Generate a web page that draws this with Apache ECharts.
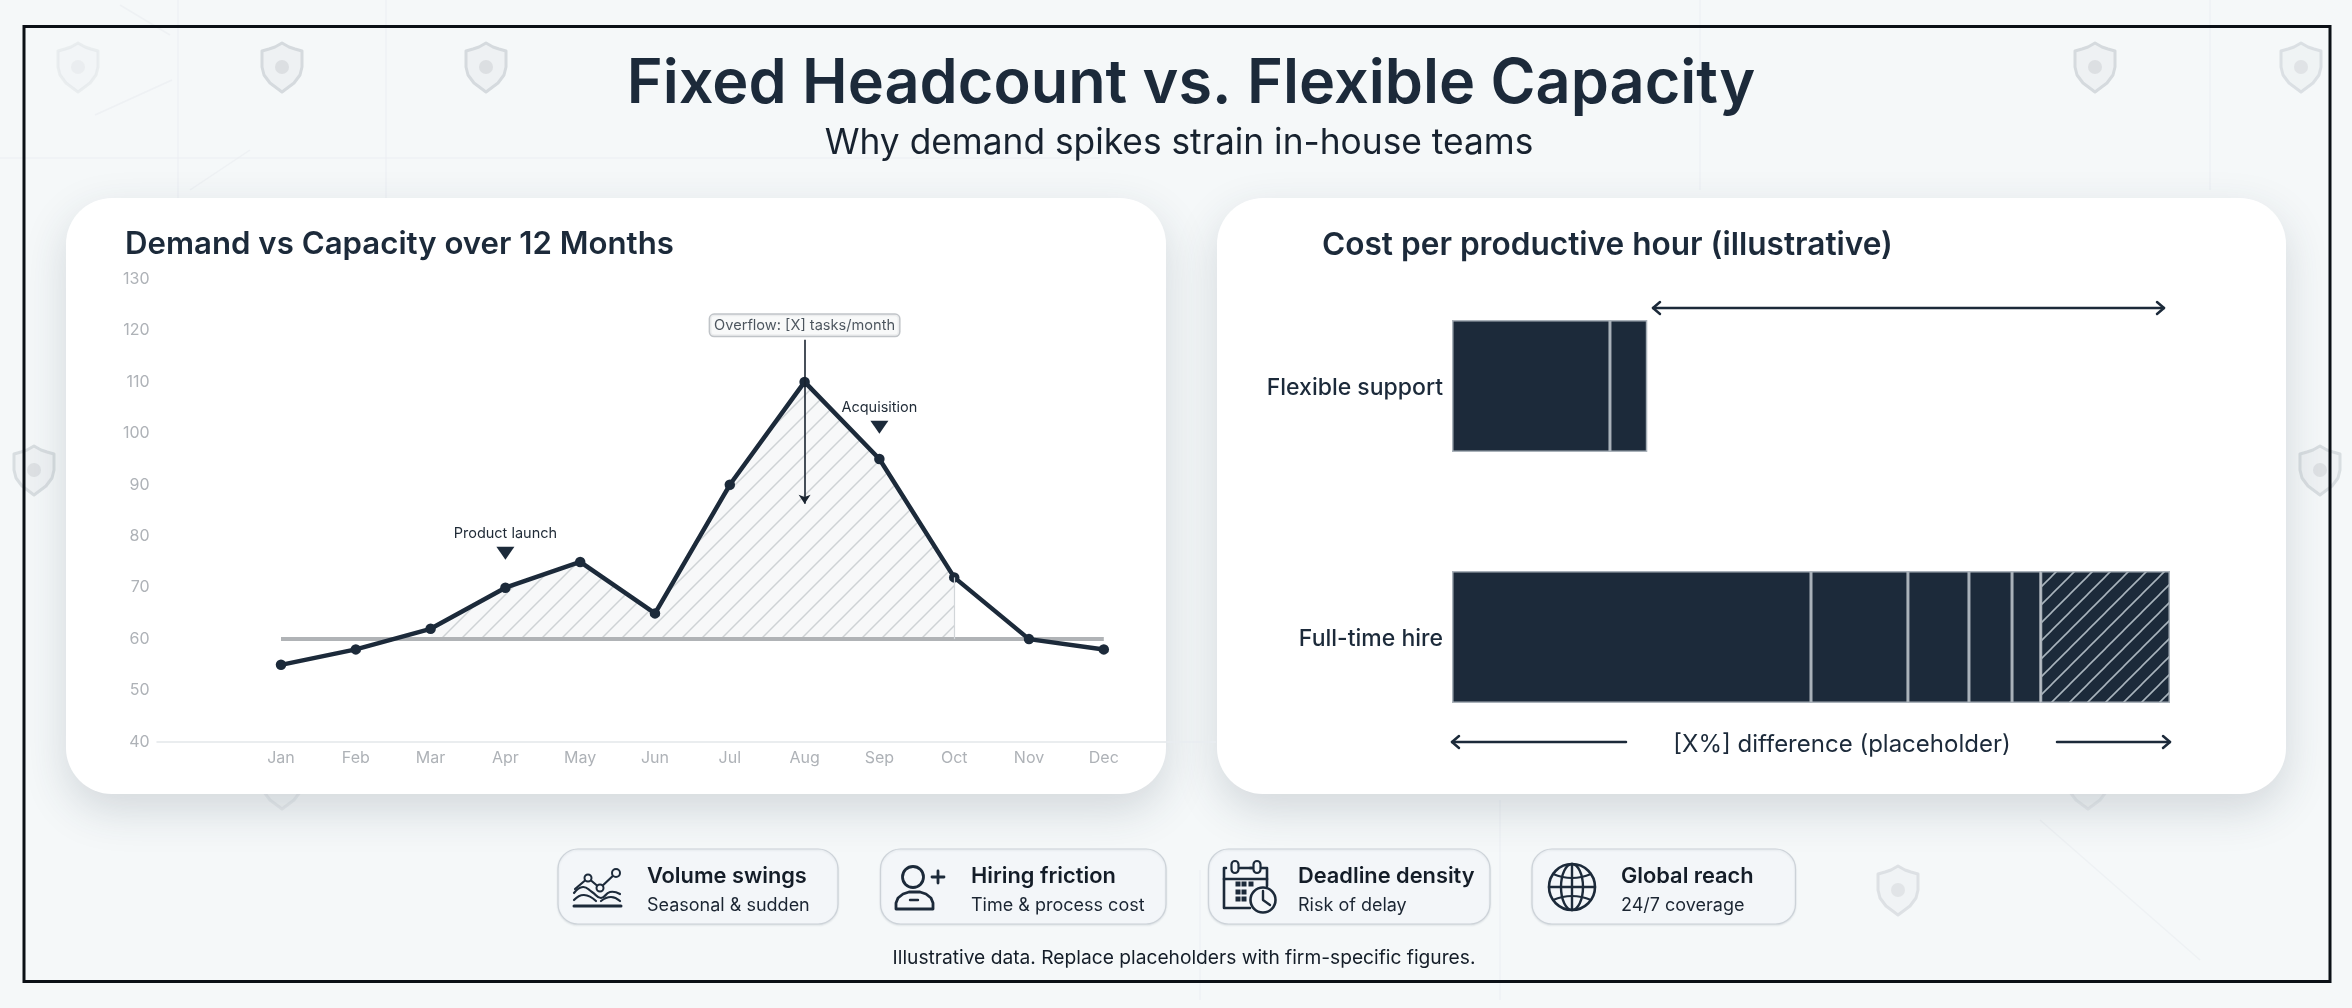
<!DOCTYPE html>
<html>
<head>
<meta charset="utf-8">
<title>Fixed Headcount vs. Flexible Capacity</title>
<style>html,body{margin:0;padding:0;background:#f5f8f9}#c{width:2352px;height:1008px}</style>
<script src="https://cdn.jsdelivr.net/npm/echarts@6/dist/echarts.min.js"></script>
</head>
<body>
<div id="c"></div>
<script>
// ---------- data ----------
const months = ['Jan','Feb','Mar','Apr','May','Jun','Jul','Aug','Sep','Oct','Nov','Dec'];
const demand = [55,58,62,70,75,65,90,110,95,72,60,58];
const capacity = [60,60,60,60,60,60,60,60,60,60,60,60];
const overflowBase = [null,null,60,60,60,60,60,60,60,60,null,null];
const overflowExtra = [null,null,2,10,15,5,30,50,35,12,null,null];
const eventPoints = [['Apr',76.7],['Sep',101.2]];
const eventNames = ['Product launch','Acquisition'];
const calloutPoint = ['Aug',121];
const calloutText = 'Overflow: [X] tasks/month';
const calloutArrow = [['Aug',118.2],['Aug',86.3]];

const costCategories = ['Flexible support','Full-time hire'];
const costSeg1 = [22,50];
const costSeg2 = [5.2,13.5];
const costSeg3 = [null,8.5];
const costSeg4 = [null,6];
const costSeg5 = [null,4];
const costHatched = [null,18];

const pills = [
  ['Volume swings','Seasonal & sudden'],
  ['Hiring friction','Time & process cost'],
  ['Deadline density','Risk of delay'],
  ['Global reach','24/7 coverage']
];
// ---------- styling ----------
const INK='#1c2a3a', FONT='Inter, "Noto Sans", sans-serif';
function hatch(size,bg,fg,w){
  const c=document.createElement('canvas');c.width=c.height=size;
  const g=c.getContext('2d');g.fillStyle=bg;g.fillRect(0,0,size,size);
  g.strokeStyle=fg;g.lineWidth=w;
  [[-2,2,2,-2],[0,size,size,0],[size-2,size+2,size+2,size-2]].forEach(p=>{g.beginPath();g.moveTo(p[0],p[1]);g.lineTo(p[2],p[3]);g.stroke();});
  return {image:c,repeat:'repeat'};
}
const gfx=[];
const ST=(o)=>Object.assign({fill:null,stroke:INK,lineWidth:2.5,lineCap:'round',lineJoin:'round'},o||{});
function add(type,shape,style,z){gfx.push({type,shape,style,z:z==null?-5:z,silent:true});}
function icoLine(x1,y1,x2,y2,w,c){add('line',{x1,y1,x2,y2},ST({lineWidth:w||2.5,stroke:c||INK}));}
function icoPoly(points,w,smooth){add('polyline',{points,smooth:smooth||0},ST({lineWidth:w||2.5}));}
function icoCirc(cx,cy,r,w,fill){add('circle',{cx,cy,r},ST({lineWidth:w||2.5,fill:fill||null}));}
function label(text,x,y,font,fill,align){gfx.push({type:'text',z:5,silent:true,style:{text,x,y,font,fill,align:align||'left',textAlign:align||'left',verticalAlign:'middle',textVerticalAlign:'middle'}});}
function arrow(x1,x2,y,l,r){
  icoLine(x1,y,x2,y,2.5);
  if(l) icoPoly([[x1+7,y-6],[x1,y],[x1+7,y+6]],2.5);
  if(r) icoPoly([[x2-7,y-6],[x2,y],[x2-7,y+6]],2.5);
}
// background veins
[[178,0,178,300],[386,0,386,198],[0,158,1100,158],[120,5,170,35],[95,115,172,80],[190,190,250,150],[1500,800,1500,1000],[2040,820,2200,960],[1700,0,1700,190],[2210,0,2210,190],[1200,870,1200,1000]]
 .forEach(l=>add('line',{x1:l[0],y1:l[1],x2:l[2],y2:l[3]},{stroke:'#e9edf0',lineWidth:1.5,opacity:.6},-30));
// shields
const SH=[[20,0],[27,4],[33,6],[40,8],[40,24],[38,32],[32,40],[20,49],[8,40],[2,32],[0,24],[0,8],[7,6],[13,4]];
[[58,43,.35],[262,43,1],[466,43,1],[2075,43,1],[2281,43,.8],[14,446,.9],[2300,446,.9],[1878,866,.75],[262,760,.4],[2068,760,.4]]
 .forEach(s=>{
   add('polygon',{points:SH.map(p=>[p[0]+s[0],p[1]+s[1]])},{fill:'#eef1f3',stroke:'#d5dade',lineWidth:3,lineJoin:'round',opacity:s[2]},-30);
   add('circle',{cx:s[0]+20,cy:s[1]+24,r:7},{fill:'#dcdfe2',opacity:s[2]},-29);
 });
// frame
add('rect',{x:24,y:26.5,width:2306,height:955},{fill:null,stroke:'#0b1016',lineWidth:3},-20);
// cards
[[66,198,1100,596],[1217,198,1069,596]].forEach(c=>
  add('rect',{x:c[0],y:c[1],width:c[2],height:c[3],r:46},{fill:'#fff',shadowBlur:44,shadowColor:'rgba(40,60,80,.17)',shadowOffsetY:16},-10));
// x baseline of the line chart (spans beyond the plot)
icoLine(157,742,1166,742,1.5,'#e4e7ea');
add('line',{x1:1166,y1:742,x2:1216,y2:742},{stroke:'#e9edf0',lineWidth:1.5},-9);
// pills
const pillBox=[[558,280],[880.5,285.5],[1208.5,281.5],[1532,263.5]];
const pillText=[647,971,1298,1621];
pillBox.forEach((p,i)=>{
  add('rect',{x:p[0],y:849,width:p[1],height:75,r:20},{fill:'#f3f6f9',stroke:'#ccd2d8',lineWidth:1.2,shadowBlur:2,shadowColor:'rgba(40,60,80,.10)',shadowOffsetY:1},-6);
  label(pills[i][0],pillText[i],876,'600 21.8px '+FONT,'#141d28');
  label(pills[i][1],pillText[i],905.5,'400 18px '+FONT,'#1b2532');
});
// arrows (right card)
arrow(1653,2164,308,true,true);
arrow(1452,1626,742,true,false);
arrow(2057,2170,742,false,true);
label('[X%] difference (placeholder)',1842,744.5,'400 24px '+FONT,INK,'center');
label('Illustrative data. Replace placeholders with firm-specific figures.',1184,958.5,'400 19.2px '+FONT,'#141d28','center');
// icon: volume swings
icoPoly([[575,889],[588,878],[600,888],[616,873]],2.2);
icoCirc(588,878,3.5,2,'#f3f6f9');icoCirc(600,888,3.5,2,'#f3f6f9');icoCirc(616,873,4,2,'#f3f6f9');
icoPoly([[574,893],[583,887],[592,892],[601,898],[610,892],[620,894]],2.2,.5);
icoPoly([[574,900],[584,895],[596,901]],2.2,.5);
icoPoly([[601,901],[611,897],[620,901]],2.2,.5);
icoLine(574,906,621,906,3);
// icon: hiring friction
icoCirc(913,877,10.5,2.8);
icoLine(938,871,938,883,2.8);icoLine(932,877,944,877,2.8);
add('polygon',{points:[[896,909],[896,903],[898,898],[903,894],[909,892],[920,892],[926,894],[931,898],[933,903],[933,909]]},ST({lineWidth:2.8}));
icoLine(910,900,918,900,2.4);
// icon: deadline density
icoPoly([[1250,868],[1267,868],[1267,886]],2.6);
icoPoly([[1226,868],[1224,868],[1224,908],[1250,908]],2.6);
icoLine(1240,868,1252,868,2.6);
icoLine(1224,879,1267,879,2.6);
[[1235,867],[1257,867]].forEach(p=>add('rect',{x:p[0]-3.5,y:p[1]-6,width:7,height:12,r:3.5},ST({lineWidth:2.2,fill:'#f3f6f9'})));
[[1238,884],[1244,884],[1251,884],[1238,892],[1244,892],[1238,899],[1244,899]].forEach(p=>add('rect',{x:p[0]-2.5,y:p[1]-2.5,width:5,height:5},{fill:INK}));
icoCirc(1263,900,12.5,2.6,'#f3f6f9');
icoPoly([[1263,891],[1263,900],[1270,905]],2.4);
// icon: global reach
icoCirc(1572,887,23,2.6);
add('ellipse',{cx:1572,cy:887,rx:11,ry:23},ST({lineWidth:2.4}));
icoLine(1572,864,1572,910,2.4);icoLine(1549,887,1595,887,2.4);
icoPoly([[1553,874],[1572,878],[1591,874]],2.2,.5);
icoPoly([[1553,900],[1572,896],[1591,900]],2.2,.5);

// ---------- chart ----------
const hatchLight=hatch(20,'#f7f8f9','#ced2d5',1.5);
const hatchDark=hatch(18,INK,'#a9b4bd',1.6);
const barBase={type:'bar',stack:'cost',xAxisIndex:1,yAxisIndex:1,barWidth:132,itemStyle:{color:INK,borderColor:'#a9b1b9',borderWidth:1.5}};
const chart=echarts.init(document.getElementById('c'),null,{renderer:'canvas'});
chart.setOption({
  animation:false,
  backgroundColor:'#f5f8f9',
  title:[
    {text:'Fixed Headcount vs. Flexible Capacity',left:1191,top:54,padding:0,textAlign:'center',textStyle:{fontFamily:FONT,fontSize:61.2,fontWeight:600,color:INK}},
    {text:'Why demand spikes strain in-house teams',left:1179,top:126,padding:0,textAlign:'center',textStyle:{fontFamily:FONT,fontSize:35.3,fontWeight:400,color:'#17222f'}},
    {text:'Demand vs Capacity over 12 Months',left:125,top:229,padding:0,textStyle:{fontFamily:FONT,fontSize:31.2,fontWeight:600,color:INK}},
    {text:'Cost per productive hour (illustrative)',left:1322,top:229,padding:0,textStyle:{fontFamily:FONT,fontSize:31.6,fontWeight:600,color:INK}}
  ],
  graphic:gfx,
  grid:[
    {left:243.6,top:279,width:897.6,height:463},
    {left:1452,top:260.5,width:718,height:502}
  ],
  xAxis:[
    {type:'category',gridIndex:0,data:months,axisLine:{show:false},axisTick:{show:false},axisLabel:{color:'#aeb2b7',fontFamily:FONT,fontSize:16,margin:8,interval:0}},
    {type:'value',gridIndex:1,min:0,max:100,show:false}
  ],
  yAxis:[
    {type:'value',gridIndex:0,min:40,max:130,interval:10,splitLine:{show:false},axisLine:{show:false},axisTick:{show:false},axisLabel:{color:'#aeb2b7',fontFamily:FONT,fontSize:16,margin:94}},
    {type:'category',gridIndex:1,inverse:true,data:costCategories,axisLine:{show:false},axisTick:{show:false},axisLabel:{color:INK,fontFamily:FONT,fontSize:23,fontWeight:500,margin:9,verticalAlign:'top',lineHeight:5}}
  ],
  series:[
    {name:'base',type:'line',stack:'overflow',data:overflowBase,symbol:'none',lineStyle:{opacity:0},z:1,silent:true},
    {name:'Overflow',type:'line',stack:'overflow',data:overflowExtra,symbol:'none',lineStyle:{opacity:0},areaStyle:{color:hatchLight,opacity:1},z:1,silent:true,
      markLine:{silent:true,symbol:'none',label:{show:false},lineStyle:{color:'#d2d6d9',width:1.2,type:'solid'},data:[[{coord:['Oct',60]},{coord:['Oct',72]}]]}},
    {name:'Capacity',type:'line',data:capacity,symbol:'none',lineStyle:{color:'#b0b3b6',width:4},z:2},
    {name:'Demand',type:'line',data:demand,symbol:'circle',symbolSize:10.5,lineStyle:{color:INK,width:4.5},itemStyle:{color:INK},z:3,
      markLine:{silent:true,symbol:['none','arrow'],symbolSize:9,label:{show:false},lineStyle:{color:'#1a2430',width:1.6,type:'solid'},
        data:[[{coord:calloutArrow[0]},{coord:calloutArrow[1]}]]}},
    {name:'Events',type:'scatter',data:eventPoints.map((p,i)=>({value:p,name:eventNames[i]})),symbol:'triangle',symbolRotate:180,symbolSize:[18,13],itemStyle:{color:INK,opacity:1},z:4,
      label:{show:true,position:'top',distance:6,formatter:'{b}',color:'#1f2a36',fontFamily:FONT,fontSize:14.5}},
    {name:'Callout',type:'scatter',data:[{value:calloutPoint,name:calloutText}],symbolSize:1,itemStyle:{color:'transparent'},z:5,
      label:{show:true,position:'inside',formatter:'{b}',color:'#1f2a36',fontFamily:FONT,fontSize:14.6,backgroundColor:'#f6f7f8',borderColor:'#b0b5ba',borderWidth:1.5,borderRadius:4,padding:[3,4,3,4]}},
    Object.assign({name:'Segment 1',data:costSeg1},barBase),
    Object.assign({name:'Segment 2',data:costSeg2},barBase),
    Object.assign({name:'Segment 3',data:costSeg3},barBase),
    Object.assign({name:'Segment 4',data:costSeg4},barBase),
    Object.assign({name:'Segment 5',data:costSeg5},barBase),
    Object.assign({},barBase,{name:'Hatched',data:costHatched,itemStyle:{color:hatchDark,borderColor:'#a9b1b9',borderWidth:1.5}})
  ]
});
</script>
</body>
</html>
